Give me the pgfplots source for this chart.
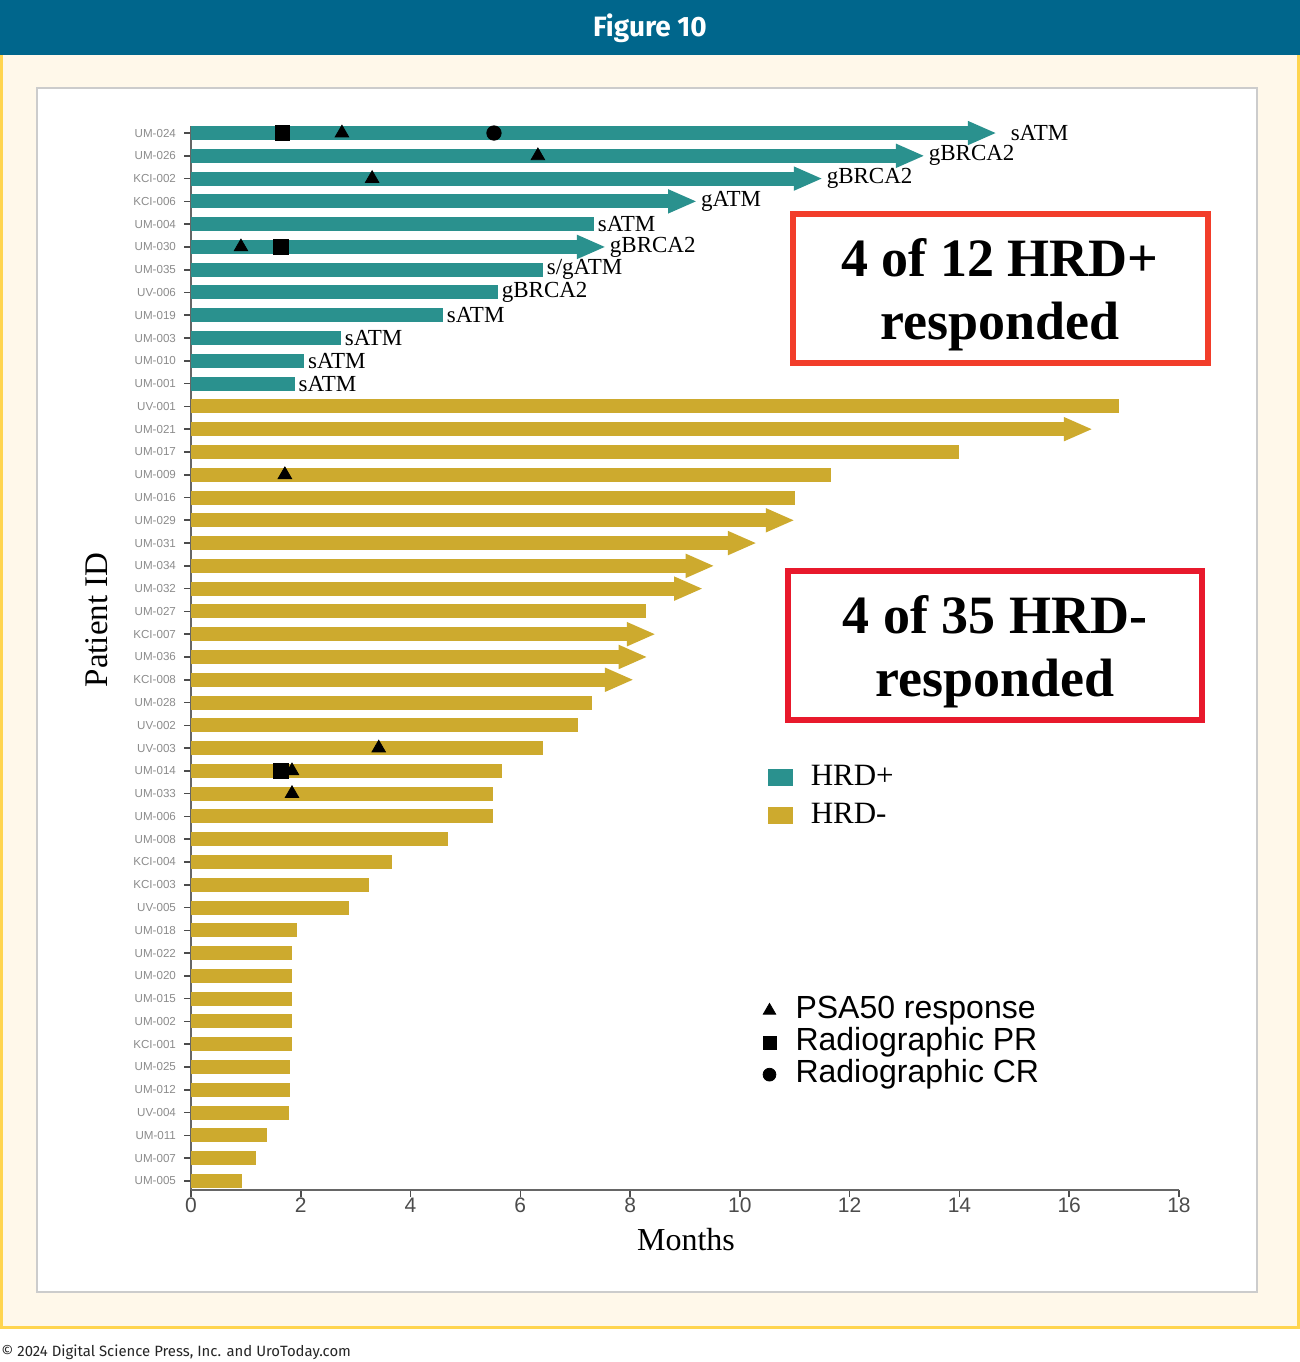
\documentclass[border=0pt]{standalone}
\usepackage{fontspec}
\setmainfont{Liberation Serif}
\setsansfont{Liberation Sans}
\newfontfamily\fira{Fira Sans}
\usepackage{pgfplots}
\pgfplotsset{compat=1.18}
\usetikzlibrary{arrows.meta}
\definecolor{hrdp}{HTML}{2A918E}
\definecolor{hrdm}{HTML}{CDAA2E}
\definecolor{hdr}{HTML}{00668C}
\definecolor{cream}{HTML}{FFF8EA}
\definecolor{ybord}{HTML}{FFD54F}
\definecolor{boxa}{HTML}{F23D2A}
\definecolor{boxb}{HTML}{E8192C}
\pgfplotsset{
  barp/.style={hrdp, line width=7pt, forget plot},
  barm/.style={hrdm, line width=7pt, forget plot},
}
\tikzset{
  arr/.style={-{Triangle[width=11pt,length=14.5pt]}},
  lab/.style={anchor=west, inner sep=0pt, xshift=-1.5pt, text=black, font=\fontsize{11.5}{12}\selectfont},
}
\begin{document}
\begin{tikzpicture}
\useasboundingbox (0,0) rectangle (650pt,681pt);
\fill[white] (0,0) rectangle (650pt,681pt);
\begin{scope}[x=0.5pt,y=-0.5pt,shift={(0,681pt)}]
  \fill[cream] (0,55) rectangle (1300,1328);
  \fill[ybord] (0,55) rectangle (3,1329);
  \fill[ybord] (1297,55) rectangle (1300,1329);
  \fill[ybord] (0,1326) rectangle (1300,1329);
  \fill[hdr] (0,0) rectangle (1300,55);
  \node[text=white, font=\fira\bfseries\fontsize{14}{16}\selectfont] at (650,28) {Figure 10};
  \filldraw[fill=white, draw=black!20, line width=0.75pt] (37,88) rectangle (1257,1292);
  \node[anchor=base west, inner sep=0pt, font=\fira\fontsize{7.45}{9}\selectfont, text=black!85] at (1,1357) {© 2024 Digital Science Press, Inc. and UroToday.com};
  % annotation boxes
  \draw[boxa, line width=3pt] (793,214) rectangle (1208,363);
  \node[anchor=base, inner sep=0pt, font=\bfseries\fontsize{27}{30}\selectfont] at (1000,277) {4 of 12 HRD+};
  \node[anchor=base, inner sep=0pt, font=\bfseries\fontsize{27}{30}\selectfont] at (1000,340) {responded};
  \draw[boxb, line width=3pt] (788,571) rectangle (1202,720);
  \node[anchor=base, inner sep=0pt, font=\bfseries\fontsize{27}{30}\selectfont] at (995,634) {4 of 35 HRD-};
  \node[anchor=base, inner sep=0pt, font=\bfseries\fontsize{27}{30}\selectfont] at (995,697) {responded};
\end{scope}

\begin{axis}[
  at={(95.5pt,86pt)}, anchor=south west,
  scale only axis, width=494pt, height=531.9pt,
  xmin=0, xmax=18, ymin=-0.3, ymax=46.4, y dir=reverse,
  clip=false,
  axis x line*=bottom, axis y line*=left,
  axis line style={black!60, line width=1pt},
  tick align=outside, major tick length=3.5pt,
  tick style={black!70, line width=0.8pt},
  xtick={0,2,...,18},
  /pgf/number format/assume math mode=true,
  xticklabel style={font=\sffamily\fontsize{10.5}{11}\selectfont, text=black!70, yshift=3pt},
  ytick={0,...,46},
  yticklabels={UM-024,UM-026,KCI-002,KCI-006,UM-004,UM-030,UM-035,UV-006,UM-019,UM-003,UM-010,UM-001,UV-001,UM-021,UM-017,UM-009,UM-016,UM-029,UM-031,UM-034,UM-032,UM-027,KCI-007,UM-036,KCI-008,UM-028,UV-002,UV-003,UM-014,UM-033,UM-006,UM-008,KCI-004,KCI-003,UV-005,UM-018,UM-022,UM-020,UM-015,UM-002,KCI-001,UM-025,UM-012,UV-004,UM-011,UM-007,UM-005},
  yticklabel style={font=\sffamily\fontsize{5.8}{6}\selectfont, text=black!45, xshift=-0.5pt},
  xlabel={Months}, ylabel={Patient ID},
  xlabel style={at={(axis description cs:0.501,-0.047)}, anchor=center, font=\fontsize{16}{18}\selectfont},
  ylabel style={at={(axis description cs:-0.0951,0.536)}, anchor=center, font=\fontsize{16.5}{18}\selectfont},
  legend cell align=left,
  legend style={at={(axis description cs:0.584,0.4033)}, anchor=north west, draw=none, fill=none,
    font=\fontsize{15.5}{17}\selectfont, row sep=2.5pt, inner sep=0pt,
    nodes={inner sep=1pt, text height=11pt, text depth=3.5pt}},
]
\addlegendimage{legend image code/.code={\fill[hrdp] (0pt,-4pt) rectangle (12pt,4pt); \path[draw=none,fill=none] (0pt,0pt) (20pt,0pt);}}
\addlegendentry{HRD+}
\addlegendimage{legend image code/.code={\fill[hrdm] (0pt,-4pt) rectangle (12pt,4pt); \path[draw=none,fill=none] (0pt,0pt) (20pt,0pt);}}
\addlegendentry{HRD-}
% HRD+ bars
\addplot[barp, arr] coordinates {(0,0) (14.68,0)} node[lab, pos=1, xshift=5pt] {sATM};
\addplot[barp, arr] coordinates {(0,1) (13.37,1)} node[lab, pos=1] {gBRCA2};
\addplot[barp, arr] coordinates {(0,2) (11.51,2)} node[lab, pos=1] {gBRCA2};
\addplot[barp, arr] coordinates {(0,3) (9.22,3)} node[lab, pos=1] {gATM};
\addplot[barp] coordinates {(0,4) (7.34,4)} node[lab, pos=1] {sATM};
\addplot[barp, arr] coordinates {(0,5) (7.56,5)} node[lab, pos=1] {gBRCA2};
\addplot[barp] coordinates {(0,6) (6.41,6)} node[lab, pos=1] {s/gATM};
\addplot[barp] coordinates {(0,7) (5.59,7)} node[lab, pos=1] {gBRCA2};
\addplot[barp] coordinates {(0,8) (4.59,8)} node[lab, pos=1] {sATM};
\addplot[barp] coordinates {(0,9) (2.73,9)} node[lab, pos=1] {sATM};
\addplot[barp] coordinates {(0,10) (2.06,10)} node[lab, pos=1] {sATM};
\addplot[barp] coordinates {(0,11) (1.89,11)} node[lab, pos=1] {sATM};
% HRD- bars
\addplot[barm] coordinates {(0,12) (16.90,12)};
\addplot[barm, arr] coordinates {(0,13) (16.43,13)};
\addplot[barm] coordinates {(0,14) (13.99,14)};
\addplot[barm] coordinates {(0,15) (11.66,15)};
\addplot[barm] coordinates {(0,16) (11.00,16)};
\addplot[barm, arr] coordinates {(0,17) (11.00,17)};
\addplot[barm, arr] coordinates {(0,18) (10.31,18)};
\addplot[barm, arr] coordinates {(0,19) (9.54,19)};
\addplot[barm, arr] coordinates {(0,20) (9.33,20)};
\addplot[barm] coordinates {(0,21) (8.29,21)};
\addplot[barm, arr] coordinates {(0,22) (8.47,22)};
\addplot[barm, arr] coordinates {(0,23) (8.32,23)};
\addplot[barm, arr] coordinates {(0,24) (8.07,24)};
\addplot[barm] coordinates {(0,25) (7.30,25)};
\addplot[barm] coordinates {(0,26) (7.05,26)};
\addplot[barm] coordinates {(0,27) (6.41,27)};
\addplot[barm] coordinates {(0,28) (5.66,28)};
\addplot[barm] coordinates {(0,29) (5.50,29)};
\addplot[barm] coordinates {(0,30) (5.50,30)};
\addplot[barm] coordinates {(0,31) (4.68,31)};
\addplot[barm] coordinates {(0,32) (3.66,32)};
\addplot[barm] coordinates {(0,33) (3.24,33)};
\addplot[barm] coordinates {(0,34) (2.88,34)};
\addplot[barm] coordinates {(0,35) (1.93,35)};
\addplot[barm] coordinates {(0,36) (1.84,36)};
\addplot[barm] coordinates {(0,37) (1.84,37)};
\addplot[barm] coordinates {(0,38) (1.84,38)};
\addplot[barm] coordinates {(0,39) (1.84,39)};
\addplot[barm] coordinates {(0,40) (1.84,40)};
\addplot[barm] coordinates {(0,41) (1.80,41)};
\addplot[barm] coordinates {(0,42) (1.80,42)};
\addplot[barm] coordinates {(0,43) (1.78,43)};
\addplot[barm] coordinates {(0,44) (1.38,44)};
\addplot[barm] coordinates {(0,45) (1.18,45)};
\addplot[barm] coordinates {(0,46) (0.93,46)};
% response markers
\addplot[only marks, mark=triangle*, mark size=3.9pt, black, forget plot] coordinates {(2.75,0) (6.32,1) (3.30,2) (0.91,5) (1.71,15) (3.42,27) (1.84,28) (1.84,29)};
\addplot[only marks, mark=square*, mark size=3.6pt, black, forget plot] coordinates {(1.66,0) (1.64,5) (1.64,28)};
\addplot[only marks, mark=*, mark size=3.6pt, black, forget plot] coordinates {(5.52,0)};
\end{axis}

\begin{axis}[
  at={(95.5pt,86pt)}, anchor=south west,
  scale only axis, width=494pt, height=531.9pt,
  xmin=0, xmax=18, ymin=0, ymax=1, hide axis,
  legend cell align=left,
  legend style={at={(axis description cs:0.575,0.184)}, anchor=north west, draw=none, fill=none,
    font=\sffamily\fontsize{16}{17}\selectfont, row sep=0pt, inner sep=0pt,
    nodes={inner sep=1pt, text height=11pt, text depth=3pt}},
  legend image code/.code={\path[draw=none,fill=none] (0pt,0pt) (17pt,0pt); \draw[#1] plot coordinates {(5pt,0pt)};},
]
\addlegendimage{only marks, mark=triangle*, mark size=3.6pt, black}
\addlegendentry{PSA50 response}
\addlegendimage{only marks, mark=square*, mark size=3.2pt, black}
\addlegendentry{Radiographic PR}
\addlegendimage{only marks, mark=*, mark size=3.2pt, black}
\addlegendentry{Radiographic CR}
\end{axis}
\end{tikzpicture}
\end{document}
